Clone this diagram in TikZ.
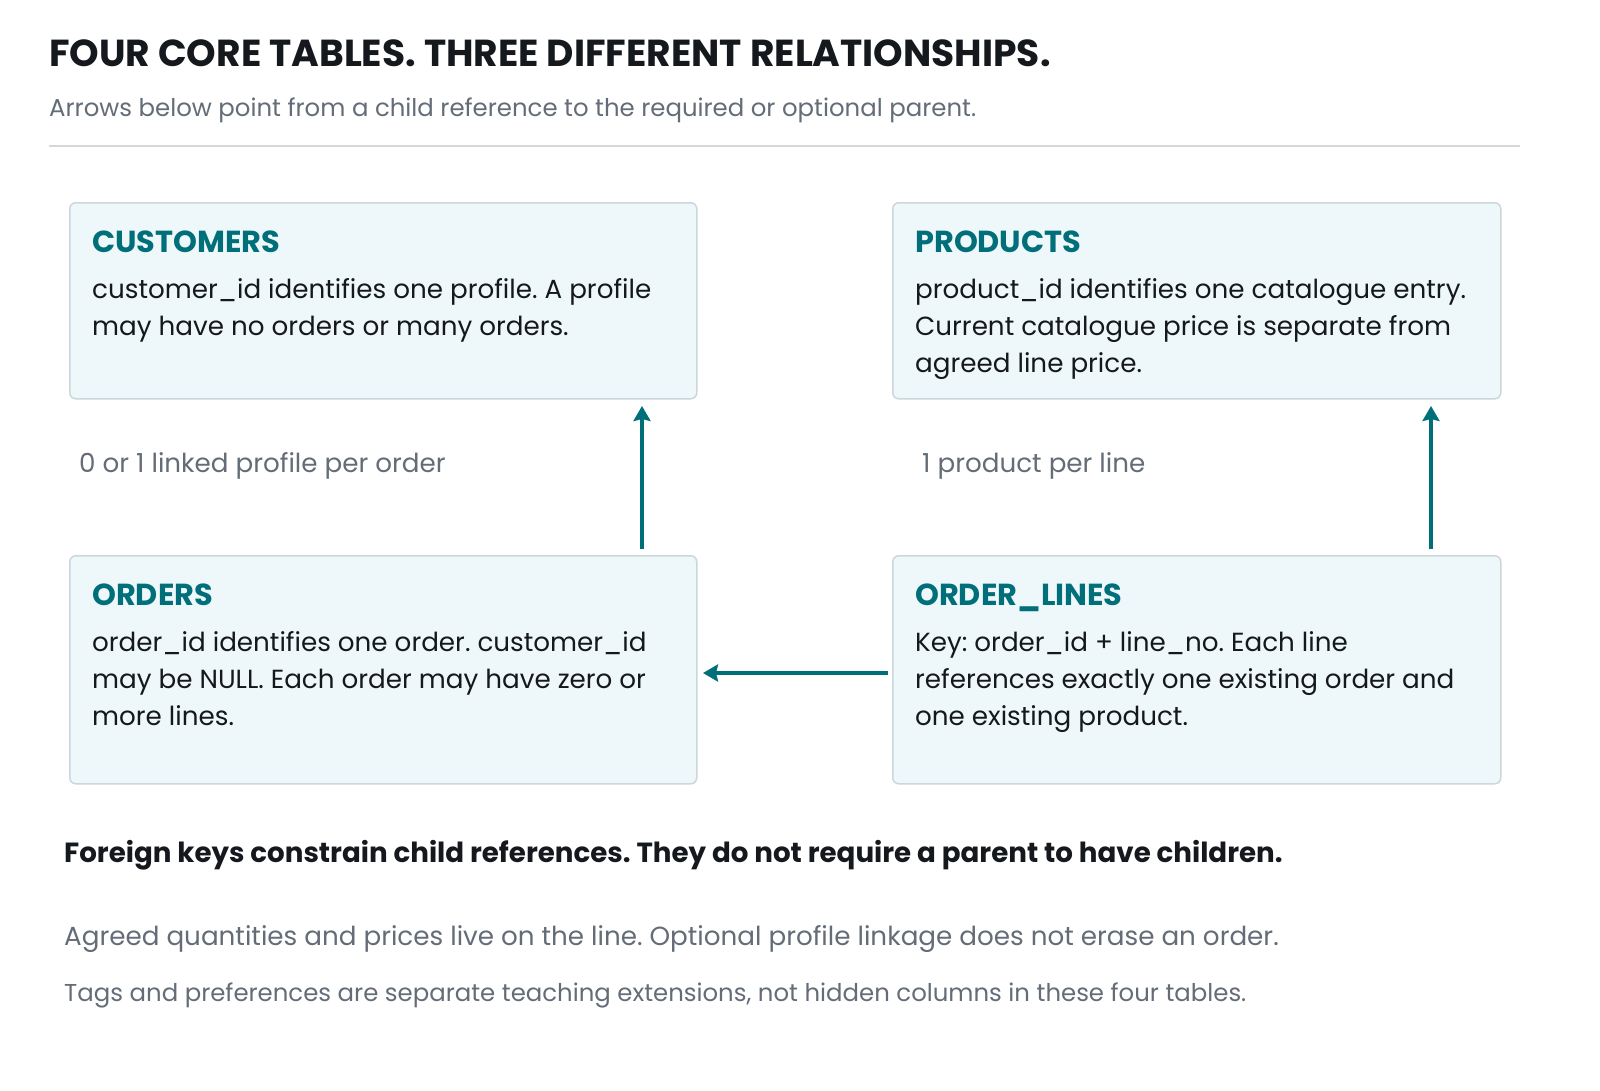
\documentclass[tikz,border=0pt]{standalone}
\usepackage{fontspec}
\setmainfont{Poppins}
\usetikzlibrary{arrows.meta}
\definecolor{ink}{HTML}{15191E}
\definecolor{muted}{HTML}{646D77}
\definecolor{teal}{HTML}{006F79}
\definecolor{boxfill}{HTML}{EEF7F9}
\definecolor{boxline}{HTML}{CCD7DC}
\definecolor{rulec}{HTML}{D3D8DD}
\frenchspacing
\tikzset{
  tablebox/.style={draw=boxline, fill=boxfill, line width=1.5bp, rounded corners=6bp, inner sep=0pt},
  heading/.style={anchor=base west, inner sep=0pt, text=teal, font=\fontsize{30.4bp}{37bp}\selectfont\bfseries},
  body/.style={anchor=base west, inner sep=0pt, text=ink, align=left, font=\fontsize{26.2bp}{37bp}\selectfont},
  lbl/.style={anchor=base west, inner sep=0pt, text=muted, font=\fontsize{26.2bp}{37bp}\selectfont},
  fk/.style={draw=teal, line width=3.5bp, -{Stealth[length=15bp,width=17bp,inset=2bp]}},
}
\begin{document}
\begin{tikzpicture}[x=1bp,y=-1bp]
\useasboundingbox (0,0) rectangle (1600,1090);
\fill[white] (0,0) rectangle (1600,1090);
% title
\node[anchor=base west, inner sep=0pt, text=ink, font=\fontsize{37.6bp}{40bp}\selectfont\bfseries] (title) at (49,66) {FOUR CORE TABLES. THREE DIFFERENT RELATIONSHIPS.};
\node[anchor=base west, inner sep=0pt, text=muted, font=\fontsize{24.4bp}{30bp}\selectfont] (subtitle) at (49,116) {Arrows below point from a child reference to the required or optional parent.};
\draw[rulec, line width=2bp] (49,146) coordinate (r1) -- (1520,146) coordinate (r2);
% boxes
\node[tablebox, minimum width=627bp, minimum height=196bp, anchor=north west] (cust) at (69,202) {};
\node[tablebox, minimum width=608bp, minimum height=196bp, anchor=north west] (prod) at (892,202) {};
\node[tablebox, minimum width=627bp, minimum height=228bp, anchor=north west] (ord) at (69,555) {};
\node[tablebox, minimum width=608bp, minimum height=228bp, anchor=north west] (line) at (892,555) {};
% texts (base anchor = baseline of last line)
\node[heading] (custh) at (92,252) {CUSTOMERS};
\node[body] (custb) at (92,335) {customer\_id identifies one profile. A profile\\may have no orders or many orders.};
\node[heading] (prodh) at (915,252) {PRODUCTS};
\node[body] (prodb) at (915,372) {product\_id identifies one catalogue entry.\\Current catalogue price is separate from\\agreed line price.};
\node[heading] (ordh) at (92,605) {ORDERS};
\node[body] (ordb) at (92,725) {order\_id identifies one order. customer\_id\\may be NULL. Each order may have zero or\\more lines.};
\node[heading] (lineh) at (915,605) {ORDER\_LINES};
\node[body] (lineb) at (915,725) {Key: order\_id + line\_no. Each line\\references exactly one existing order and\\one existing product.};
% labels
\node[lbl] (l1) at (79,472) {0 or 1 linked profile per order};
\node[lbl] (l2) at (922,472) {1 product per line};
% arrows
\coordinate (a1s) at (642,549);
\coordinate (a1e) at (642,406);
\coordinate (a2s) at (1431,549);
\coordinate (a2e) at (1431,406);
\coordinate (a3s) at (888,673);
\coordinate (a3e) at (703,673);
\draw[fk] (a1s) -- (a1e);
\draw[fk] (a2s) -- (a2e);
\draw[fk] (a3s) -- (a3e);
% footer
\node[anchor=base west, inner sep=0pt, text=ink, font=\fontsize{27.7bp}{30bp}\selectfont\bfseries] (foot) at (64,862) {Foreign keys constrain child references. They do not require a parent to have children.};
\node[lbl] (n1) at (64,945) {Agreed quantities and prices live on the line. Optional profile linkage does not erase an order.};
\node[anchor=base west, inner sep=0pt, text=muted, font=\fontsize{24.4bp}{30bp}\selectfont] (n2) at (64,1001) {Tags and preferences are separate teaching extensions, not hidden columns in these four tables.};
\end{tikzpicture}
\end{document}
